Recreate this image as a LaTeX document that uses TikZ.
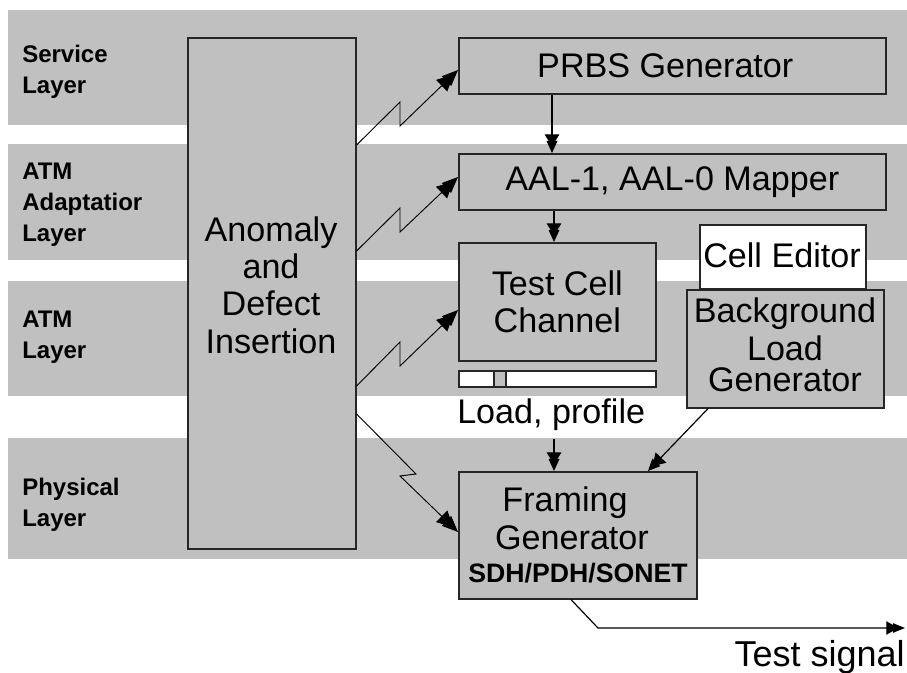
\documentclass[tikz,border=0pt]{standalone}
\usepackage{fontspec}
\setmainfont{Liberation Sans}
\usetikzlibrary{arrows.meta}
\definecolor{band}{gray}{0.753}
\tikzset{x=0.75pt,y=-0.75pt,
 bandbox/.style={fill=band,draw=none,minimum width=899*0.75pt,anchor=north west,inner sep=0},
 blockbox/.style={draw=black!85,line width=1.2pt,fill=band,anchor=north west,inner sep=0,align=center,font=\fontsize{25.6}{28}\selectfont},
 whitebox/.style={blockbox,fill=white},
 layerlabel/.style={anchor=west,align=left,font=\fontsize{18}{23.25}\selectfont\bfseries,inner sep=0},
 free/.style={font=\fontsize{25.6}{28}\selectfont,inner sep=0},
 arr/.style={draw=black,line width=0.9pt,-{Triangle[length=9pt,width=11pt,sep=-4pt]Triangle[length=9pt,width=8pt]}},
 arrz/.style={draw=black,line width=0.7pt,-{Triangle[length=12pt,width=12pt,sep=-7pt]Triangle[length=12pt,width=10pt]}}}
\begin{document}
\begin{tikzpicture}
\useasboundingbox (0,0) rectangle (907,673);
\fill[white] (0,0) rectangle (907,673);
\node[bandbox,minimum height=115*0.75pt] (b1) at (8,10) {};
\node[bandbox,minimum height=116*0.75pt] (b2) at (8,144) {};
\node[bandbox,minimum height=115*0.75pt] (b3) at (8,281) {};
\node[bandbox,minimum height=121*0.75pt] (b4) at (8,438) {};
\node[layerlabel] (l1) at (22,72) {Service\\Layer};
\node[layerlabel] (l2) at (22,205) {ATM\\Adaptatior\\Layer};
\node[layerlabel] (l3) at (22,337) {ATM\\Layer};
\node[layerlabel] (l4) at (22,504.5) {Physical\\Layer};
\node[blockbox,minimum width=168*0.75pt,minimum height=511*0.75pt] (adi) at (187,37) {};
\node[free,align=center] (adit) at (271,285) {Anomaly\\and\\Defect\\Insertion};
\node[blockbox,minimum width=427*0.75pt,minimum height=56*0.75pt] (prbs) at (458,37) {PRBS Generator\hspace{10.5pt}};
\node[blockbox,minimum width=427*0.75pt,minimum height=56*0.75pt] (aal) at (458,153) {AAL-1, AAL-0 Mapper};
\node[blockbox,minimum width=197*0.75pt,minimum height=118*0.75pt] (tcc) at (458,242) {Test Cell\\Channel};
\node[whitebox,minimum width=166*0.75pt,minimum height=64*0.75pt] (ce) at (699,224) {};
\node[free] (cet) at (782,255) {Cell Editor};
\node[blockbox,minimum width=197*0.75pt,minimum height=118*0.75pt] (bg) at (686,289) {};
\node[free,align=center] (bgt) at (785,345) {Background\\Load\\[-4.5pt]Generator};
\node[whitebox,minimum width=197*0.75pt,minimum height=16*0.75pt] (slider) at (458,370) {};
\node[blockbox,minimum width=12*0.75pt,minimum height=16*0.75pt] (knob) at (493,370) {};
\node[free,anchor=west] (load) at (457,415) {Load, profile};
\node[blockbox,minimum width=238*0.75pt,minimum height=127*0.75pt] (fg) at (458,471) {};
\node[free] (fgt1) at (565,503) {Framing};
\node[free] (fgt2) at (572,538) {Generator};
\node[font=\fontsize{20}{24}\selectfont\bfseries,inner sep=0] (fgs) at (578,573) {SDH/PDH/SONET};
\node[font=\fontsize{27}{30}\selectfont,inner sep=0,anchor=east] (ts) at (905,657) {Test signal};
\coordinate (o) at (905,628);
\coordinate (loadout) at (554,439);
\draw[arr] (552,0 |- prbs.south) -- (552,0 |- aal.north);
\draw[arr] (554,0 |- aal.south) -- (554,0 |- tcc.north);
\draw[arr] (loadout) -- (loadout |- fg.north);
\draw[arr] (708,0 |- bg.south) -- (648,0 |- fg.north);
\draw[draw=black,line width=0.9pt,-{Triangle[length=9pt,width=10pt,sep=-4pt]Triangle[length=9pt,width=7pt]}] (571,0 |- fg.south) -- (598,628) -- (o);
\draw[arrz] (adi.east |- 0,145) -- (400,102) -- (400,126) -- (prbs.west |- 0,70);
\draw[arrz] (adi.east |- 0,251) -- (400,208) -- (400,232) -- (aal.west |- 0,177);
\draw[arrz] (adi.east |- 0,386) -- (400,342) -- (400,366) -- (tcc.west |- 0,310);
\draw[arrz] (adi.east |- 0,414) -- (416,474) -- (400,476) -- (fg.west |- 0,532);
\end{tikzpicture}
\end{document}
